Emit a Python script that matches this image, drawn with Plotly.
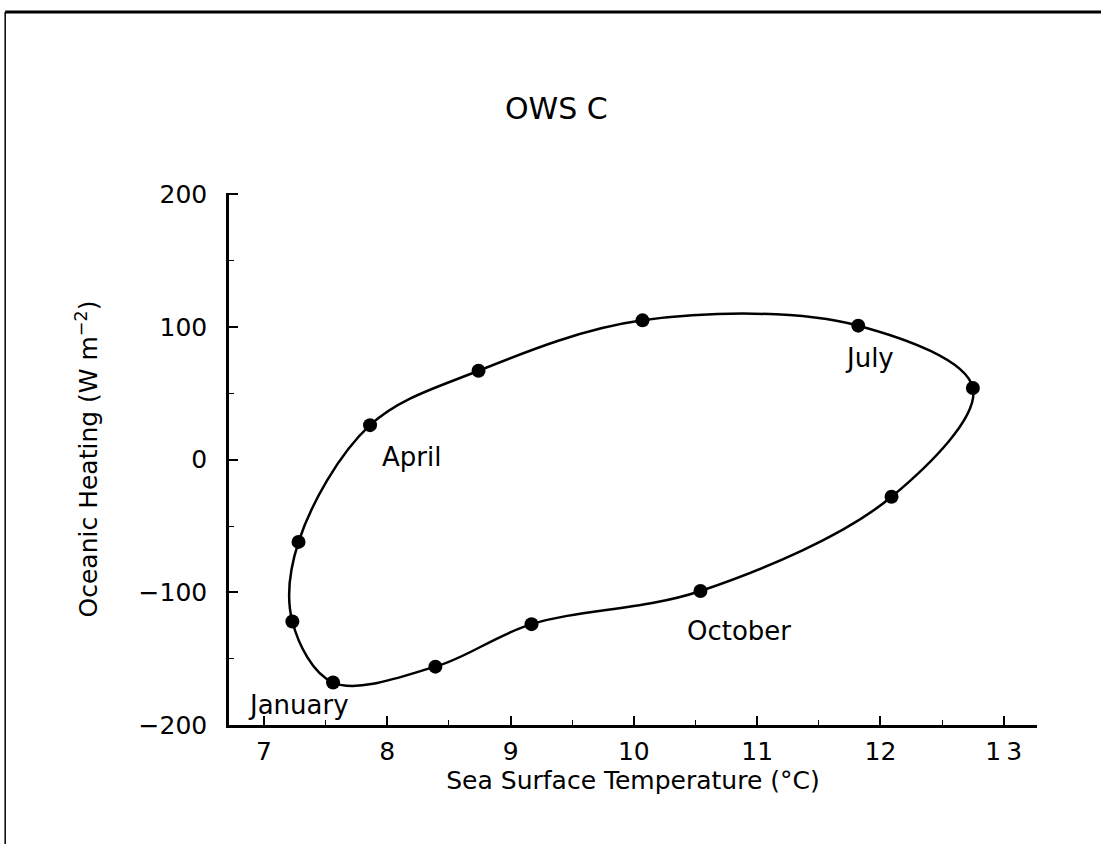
import plotly.graph_objects as go

months = ["January", "February", "March", "April", "May", "June",
          "July", "August", "September", "October", "November", "December"]
sst = [7.56, 7.23, 7.28, 7.86, 8.74, 10.07, 11.82, 12.75, 12.09, 10.54, 9.17, 8.39]
heating = [-168, -122, -62, 26, 67, 105, 101, 54, -28, -99, -124, -156]

x_ticks = [7, 8, 9, 10, 11, 12, 13]
x_ticklabels = ["7", "8", "9", "10", "11", "12", "1\u20093"]
y_ticks = [-200, -100, 0, 100, 200]
y_ticklabels = ["−200", "−100", "0", "100", "200"]

labelled = ["January", "April", "July", "October"]
label_pos = {"January": (7.28, -185), "April": (8.2, 2), "July": (11.91, 77), "October": (10.85, -129)}

FONT = "DejaVu Sans"

fig = go.Figure()
fig.add_trace(go.Scatter(
    x=sst + [sst[0]], y=heating + [heating[0]],
    mode="lines", line=dict(color="black", width=2.5, shape="spline", smoothing=1.0),
    hoverinfo="skip", showlegend=False))
fig.add_trace(go.Scatter(
    x=sst, y=heating, mode="markers", text=months,
    marker=dict(color="black", size=14), showlegend=False))

for m in labelled:
    px, py = label_pos[m]
    fig.add_annotation(x=px, y=py, text=m, showarrow=False,
                       font=dict(family=FONT, size=26, color="black"))

fig.add_annotation(xref="paper", yref="paper", x=0.405, y=1.195, text="OWS C",
                   showarrow=False, font=dict(family=FONT, size=30, color="black"))

# page frame (top and left edges)
fig.add_shape(type="line", xref="paper", yref="paper", x0=-0.277, x1=1.1,
              y0=1.340, y1=1.340, line=dict(color="black", width=3))
fig.add_shape(type="line", xref="paper", yref="paper", x0=-0.277, x1=-0.277,
              y0=1.340, y1=-0.3, line=dict(color="black", width=1.5))

fig.update_layout(
    width=1101, height=844, autosize=False,
    margin=dict(l=229, r=64, t=193, b=119),
    plot_bgcolor="white", paper_bgcolor="white",
    font=dict(family=FONT, size=25, color="black"),
    xaxis=dict(range=[6.716, 13.27], tickvals=x_ticks, ticktext=x_ticklabels,
               showgrid=False, zeroline=False, showline=True, linecolor="black", linewidth=2.5,
               ticks="inside", ticklen=9, tickwidth=1.5, tickcolor="black",
               minor=dict(ticks="inside", ticklen=5, tickwidth=1.2, tickcolor="black", dtick=0.5, tick0=7),
               ticklabelstandoff=2,
               title=dict(text="Sea Surface Temperature (°C)", standoff=6,
                          font=dict(family=FONT, size=25))),
    yaxis=dict(range=[-200, 201], tickvals=y_ticks, ticktext=y_ticklabels,
               showgrid=False, zeroline=False, showline=True, linecolor="black", linewidth=2.5,
               ticks="inside", ticklen=9, tickwidth=1.5, tickcolor="black",
               minor=dict(ticks="inside", ticklen=5, tickwidth=1.2, tickcolor="black", dtick=50, tick0=0),
               ticklabelstandoff=14,
               title=dict(text="Oceanic Heating (W m<sup>−2</sup>)", standoff=34,
                          font=dict(family=FONT, size=25))),
)

fig.write_html("out.html")
